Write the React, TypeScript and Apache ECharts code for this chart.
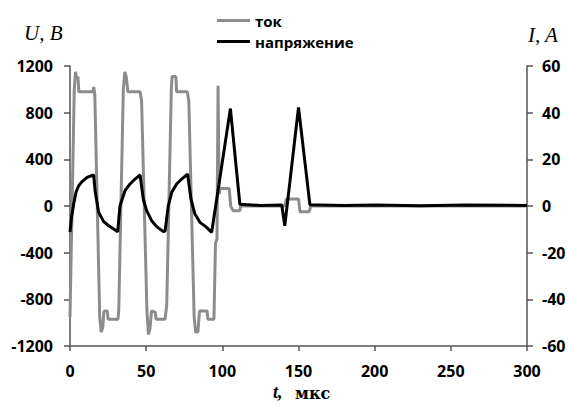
import React, { useEffect, useRef } from "react";
import * as echarts from "echarts";

// Current (ток), A — right axis
const tCurrent = [
  0, 2.8, 3.6, 4.4, 5.2, 5.8, 15, 15.6, 16.3, 19.5, 20.5, 21.5, 22.3, 24.5, 25, 31.5,
  32, 35, 36, 37, 38, 46, 47, 50.5, 51.5, 52.5, 53.5, 56, 56.5, 62.4,
  63.5, 66.5, 67, 69.5, 70, 77, 78, 81.5, 82.5, 84, 85, 90, 90.5, 94.5,
  95.5, 96.5, 97.2, 97.9, 98.5, 104.5, 105.5, 107, 111.5, 112, 141, 142, 150, 151, 157, 158, 300,
];
const current = [
  -47.5, 50, 57.5, 54.5, 55.5, 49, 49, 51, 47.5, -47.5, -54, -52, -45, -45, -48.5, -48.5,
  -45, 50, 57.5, 55, 49, 49, 45, -45, -55, -52.5, -45, -45.5, -48.5, -48.5,
  -42.5, 50, 55.5, 55.5, 49, 49, 45, -47.5, -54, -54, -45, -45, -48.5, -48.5,
  -16, -14, 51.5, 5, 7.5, 7.5, 0, -2, -2, 0, 0, 3, 3, -2.5, -2.5, 0, 0,
];

// Voltage (напряжение), V — left axis
const tVoltage = [
  0, 1, 2.4, 4, 5.7, 7.9, 11.2, 15.5, 16.6, 18.8, 22.1, 25.4, 28.7, 31.3,
  32.8, 36.1, 39.4, 42.7, 46, 48.1, 50.3, 53.6, 56.9, 61.3, 62.4,
  64.5, 66.8, 70, 73.3, 77.2, 79.4, 82, 85.3, 89.7, 93,
  105.3, 111.5, 125, 139, 141, 150, 157.5, 180, 200, 230, 260, 300,
];
const voltage = [
  -223, -100, 17, 120, 174, 209, 246, 266, 117, -54, -134, -169, -197, -222,
  0, 131, 189, 231, 266, 60, -40, -126, -177, -220, -215,
  0, 117, 189, 231, 274, 60, -69, -140, -183, -226,
  835, 15, 5, 8, -170, 846, 10, 5, 8, 3, 8, 5,
];

const leftTicks = { min: -1200, max: 1200, interval: 400 };
const rightTicks = { min: -60, max: 60, interval: 20 };
const xTicks = { min: 0, max: 300, interval: 50 };

export default function App() {
  const ref = useRef<HTMLDivElement>(null);
  useEffect(() => {
    if (!ref.current) return;
    const chart = echarts.init(ref.current, null, { renderer: "svg" });
    const axisColor = "#555555";
    const labelStyle = {
      color: "#000",
      fontFamily: "Open Sans",
      fontWeight: "bold" as const,
      fontSize: 16,
      formatter: (v: number) => String(v),
    };
    chart.setOption({
      animation: false,
      backgroundColor: "#fff",
      grid: { left: 70, right: 41, top: 66, bottom: 59, outerBoundsMode: "none" },
      legend: {
        orient: "vertical",
        left: 212,
        top: 8,
        icon: "rect",
        itemWidth: 33,
        itemHeight: 3,
        itemGap: 6,
        data: ["ток", "напряжение"],
        textStyle: { color: "#000", fontFamily: "Open Sans", fontWeight: "bold", fontSize: 15 },
      },
      xAxis: {
        type: "value",
        ...xTicks,
        axisLine: { onZero: false, lineStyle: { color: axisColor, width: 1.5 } },
        axisTick: { show: true, length: 5, lineStyle: { color: axisColor, width: 1.5 } },
        axisLabel: { ...labelStyle, margin: 17 },
        splitLine: { show: false },
      },
      yAxis: [
        {
          type: "value",
          ...leftTicks,
          position: "left",
          axisLine: { show: true, onZero: false, lineStyle: { color: axisColor, width: 1.5 } },
          axisTick: { show: true, length: 6, lineStyle: { color: axisColor, width: 1.5 } },
          axisLabel: { ...labelStyle, margin: 17 },
          splitLine: { show: false },
        },
        {
          type: "value",
          ...rightTicks,
          position: "right",
          axisLine: { show: true, onZero: false, lineStyle: { color: axisColor, width: 1.5 } },
          axisTick: { show: true, length: 6, lineStyle: { color: axisColor, width: 1.5 } },
          axisLabel: { ...labelStyle, margin: 15 },
          splitLine: { show: false },
        },
      ],
      graphic: [
        {
          type: "text",
          left: 24,
          top: 22,
          style: { text: "U, B", font: "italic 21px 'Liberation Serif'", fill: "#000" },
        },
        {
          type: "text",
          left: 528,
          top: 24,
          style: { text: "I, A", font: "italic 21px 'Liberation Serif'", fill: "#000" },
        },
        {
          type: "text",
          left: 273,
          top: 383,
          style: { text: "t,", font: "italic bold 18px 'Liberation Serif'", fill: "#000" },
        },
        {
          type: "text",
          left: 295,
          top: 385,
          style: { text: "мкс", font: "bold 16px 'DejaVu Serif'", fill: "#000" },
        },
      ],
      series: [
        {
          name: "ток",
          type: "line",
          yAxisIndex: 1,
          symbol: "none",
          data: tCurrent.map((t, i) => [t, current[i]]),
          lineStyle: { color: "#8c8c8c", width: 3 },
          itemStyle: { color: "#8c8c8c" },
        },
        {
          name: "напряжение",
          type: "line",
          yAxisIndex: 0,
          symbol: "none",
          data: tVoltage.map((t, i) => [t, voltage[i]]),
          lineStyle: { color: "#000", width: 3 },
          itemStyle: { color: "#000" },
        },
      ],
    });
    return () => chart.dispose();
  }, []);
  return <div ref={ref} style={{ width: 568, height: 405, position: "absolute", left: 0, top: 0 }} />;
}
